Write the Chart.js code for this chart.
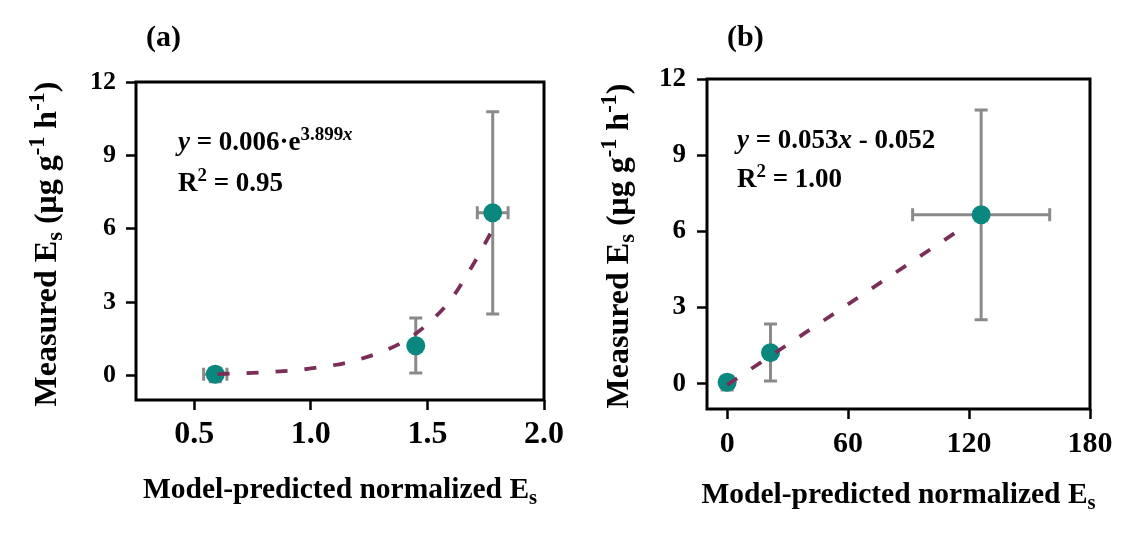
<!DOCTYPE html>
<html><head><meta charset="utf-8">
<script src="https://cdn.jsdelivr.net/npm/chart.js@4.4.1/dist/chart.umd.min.js"></script>
<style>
body{margin:0;background:#fff}
#wrap{position:relative;width:1131px;height:540px;background:#fff}
canvas{position:absolute;left:0;top:0}
</style>
</head><body>
<div id="wrap"><canvas id="ca" width="1131" height="540"></canvas><canvas id="cb" width="1131" height="540"></canvas></div>
<script>
// ---------- data ----------
// shared measured values (y)
const measured      = [0.05, 1.22, 6.65];
const measuredLow   = [-0.25, 0.10, 2.52];
const measuredHigh  = [0.30, 2.35, 10.78];
// panel (a): model-predicted normalized Es (x)
const predA     = [0.59, 1.45, 1.78];
const predALow  = [0.54, 1.45, 1.714];
const predAHigh = [0.64, 1.45, 1.846];
// panel (a): fitted curve
const fitAX = [0.60, 0.80, 1.00, 1.20, 1.40, 1.50, 1.60, 1.70, 1.77];
const fitAY = [0.06, 0.13, 0.29, 0.64, 1.40, 2.10, 3.10, 4.60, 5.80];
// panel (b)
const predB     = [0, 21.5, 126];
const predBLow  = [-3, 21.5, 92];
const predBHigh = [3, 21.5, 160];
const fitBX = [0, 118];
const fitBY = [-0.05, 6.2];
// tick labels
const ticksY  = [0, 3, 6, 9, 12];
const ticksAX = [0.5, 1.0, 1.5, 2.0];
const ticksBX = [0, 60, 120, 180];

// ---------- styles ----------
const FONT = '"Liberation Serif", "Times New Roman", serif';
const TEAL = '#0A877F';
const GREY = '#8A8A8A';
const FITC = '#7B2F58';

function fontStr(sz, it){ return (it ? 'italic ' : '') + 'bold ' + sz + 'px ' + FONT; }

function richWidth(ctx, segs, size){
  let w = 0;
  for (const s of segs){
    const sz = (s.sup || s.sub) ? size * 0.7 : size;
    ctx.font = fontStr(sz, s.i);
    w += ctx.measureText(s.t).width;
  }
  return w;
}
function drawRich(ctx, segs, x, y, size, align){
  const w = richWidth(ctx, segs, size);
  let cx = align === 'center' ? x - w / 2 : x;
  ctx.textBaseline = 'alphabetic';
  ctx.textAlign = 'left';
  ctx.fillStyle = '#000';
  for (const s of segs){
    const sz = (s.sup || s.sub) ? size * 0.7 : size;
    ctx.font = fontStr(sz, s.i);
    let dy = 0;
    if (s.sup) dy = -size * 0.38;
    if (s.sub) dy = size * 0.2;
    ctx.fillText(s.t, cx, y + dy);
    cx += ctx.measureText(s.t).width;
  }
}

const yTitle = [{t:'Measured E'},{t:'s',sub:1},{t:' (μg g'},{t:'-1',sup:1},{t:' h'},{t:'-1',sup:1},{t:')'}];
const xTitle = [{t:'Model-predicted normalized E'},{t:'s',sub:1}];

const decoPlugin = {
  id: 'deco',
  beforeDatasetsDraw(chart){
    const o = chart.options.plugins.deco; if (!o) return;
    const ctx = chart.ctx, xs = chart.scales.x, ys = chart.scales.y;
    ctx.save();
    ctx.strokeStyle = GREY; ctx.lineWidth = 3; ctx.lineCap = 'butt';
    const cap = 6.5;
    for (let i = 0; i < o.ex.length; i++){
      const px = xs.getPixelForValue(o.ex[i]), py = ys.getPixelForValue(o.ey[i]);
      const y1 = ys.getPixelForValue(o.eyLow[i]), y2 = ys.getPixelForValue(o.eyHigh[i]);
      const x1 = xs.getPixelForValue(o.exLow[i]), x2 = xs.getPixelForValue(o.exHigh[i]);
      if (Math.abs(y2 - y1) > 1){
        ctx.beginPath();
        ctx.moveTo(px, y1); ctx.lineTo(px, y2);
        ctx.moveTo(px - cap, y1); ctx.lineTo(px + cap, y1);
        ctx.moveTo(px - cap, y2); ctx.lineTo(px + cap, y2);
        ctx.stroke();
      }
      if (Math.abs(x2 - x1) > 1){
        ctx.beginPath();
        ctx.moveTo(x1, py); ctx.lineTo(x2, py);
        ctx.moveTo(x1, py - cap); ctx.lineTo(x1, py + cap);
        ctx.moveTo(x2, py - cap); ctx.lineTo(x2, py + cap);
        ctx.stroke();
      }
    }
    ctx.restore();
  },
  afterDraw(chart){
    const o = chart.options.plugins.deco; if (!o) return;
    const ctx = chart.ctx, a = chart.chartArea;
    ctx.save();
    // frame
    ctx.strokeStyle = '#000'; ctx.lineWidth = 3;
    ctx.strokeRect(a.left, a.top, a.right - a.left, a.bottom - a.top);
    // panel label
    drawRich(ctx, [{t:o.panel}], o.panelX, o.panelY, 30, 'left');
    // annotations
    drawRich(ctx, o.eq, o.annX, o.eqY, 27, 'left');
    drawRich(ctx, [{t:'R'},{t:'2',sup:1},{t:o.r2}], o.annX, o.r2Y, 27, 'left');
    // x title
    drawRich(ctx, xTitle, (a.left + a.right) / 2, o.xTitleY, 29.5, 'center');
    // y title
    ctx.save();
    ctx.translate(o.yTitleX, o.yTitleY);
    ctx.rotate(-Math.PI / 2);
    drawRich(ctx, yTitle, 0, 0, 32, 'center');
    ctx.restore();
    ctx.restore();
  }
};

function pts(xs, ys){ return xs.map((v, i) => ({x: v, y: ys[i]})); }

function makeChart(id, cfg){
  return new Chart(document.getElementById(id), {
    type: 'scatter',
    data: {
      datasets: [
        { data: pts(cfg.fitX, cfg.fitY), showLine: true, borderColor: FITC, borderWidth: 3.8,
          borderDash: [12, 17], pointRadius: 0, cubicInterpolationMode: 'monotone', order: 0, fill: false },
        { data: pts(cfg.px, measured), pointRadius: 9.5, pointHoverRadius: 9.5,
          backgroundColor: TEAL, borderWidth: 0, order: 1 }
      ]
    },
    options: {
      responsive: false, animation: false, devicePixelRatio: 1,
      events: [],
      layout: { padding: cfg.padding },
      plugins: {
        legend: { display: false }, tooltip: { enabled: false },
        deco: cfg.deco
      },
      scales: {
        x: {
          type: 'linear', min: cfg.xmin, max: cfg.xmax,
          afterBuildTicks: s => { s.ticks = cfg.xticks.map(v => ({value: v})); },
          afterFit: s => { s.height = cfg.xHeight; },
          ticks: { autoSkip: false, maxRotation: 0, color: '#000', padding: cfg.xPad,
                   font: { family: FONT, weight: 'bold', size: cfg.xFont },
                   callback: cfg.xfmt },
          grid: { drawOnChartArea: false, drawTicks: true, tickLength: 10, tickWidth: 2.5, tickColor: '#000' },
          border: { display: false }
        },
        y: {
          type: 'linear', min: -1, max: 12,
          afterBuildTicks: s => { s.ticks = ticksY.map(v => ({value: v})); },
          afterFit: s => { s.width = cfg.yWidth; },
          ticks: { autoSkip: false, color: '#000', padding: cfg.yPad,
                   font: { family: FONT, weight: 'bold', size: cfg.yFont },
                   callback: v => String(v) },
          grid: { drawOnChartArea: false, drawTicks: true, tickLength: 10, tickWidth: 2.5, tickColor: '#000' },
          border: { display: false }
        }
      }
    },
    plugins: [decoPlugin]
  });
}

makeChart('ca', {
  fitX: fitAX, fitY: fitAY, px: predA,
  xmin: 0.25, xmax: 2.0, xticks: ticksAX, xfmt: v => Number(v).toFixed(1),
  padding: { left: 0, right: 587, top: 82, bottom: 0 },
  yWidth: 136, xHeight: 140, xFont: 32, yFont: 26, xPad: 6, yPad: 10,
  deco: {
    ex: predA, exLow: predALow, exHigh: predAHigh, ey: measured, eyLow: measuredLow, eyHigh: measuredHigh,
    panel: '(a)', panelX: 146, panelY: 46,
    eq: [{t:'y',i:1},{t:' = 0.006·e'},{t:'3.899',sup:1},{t:'x',sup:1,i:1}],
    r2: ' = 0.95', annX: 178, eqY: 150, r2Y: 191,
    xTitleY: 498, yTitleX: 56, yTitleY: 244
  }
});

makeChart('cb', {
  fitX: fitBX, fitY: fitBY, px: predB,
  xmin: -10, xmax: 180, xticks: ticksBX, xfmt: v => String(v),
  padding: { left: 607, right: 41, top: 79, bottom: 0 },
  yWidth: 100, xHeight: 131, xFont: 30, yFont: 27, xPad: 7, yPad: 11,
  deco: {
    ex: predB, exLow: predBLow, exHigh: predBHigh, ey: measured, eyLow: measuredLow, eyHigh: measuredHigh,
    panel: '(b)', panelX: 727, panelY: 46,
    eq: [{t:'y',i:1},{t:' = 0.053'},{t:'x',i:1},{t:' - 0.052'}],
    r2: ' = 1.00', annX: 737, eqY: 148, r2Y: 187,
    xTitleY: 503, yTitleX: 628, yTitleY: 246
  }
});
</script>
</body></html>
